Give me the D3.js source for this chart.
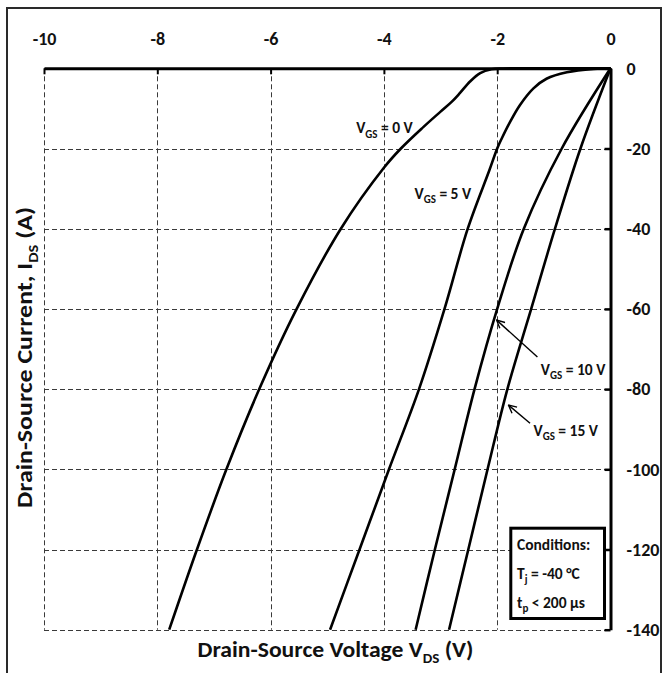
<!DOCTYPE html>
<html>
<head>
<meta charset="utf-8">
<script src="https://cdn.jsdelivr.net/npm/d3@7"></script>
<style>
  html, body { margin: 0; padding: 0; background: #fff; }
  svg { display: block; }
  text { font-family: Carlito, Calibri, Lato, "Open Sans", sans-serif; font-weight: bold; fill: #111; }
</style>
</head>
<body>
<svg id="chart" width="663" height="673"></svg>
<script>
// Axis ticks
const xTicks = [-10, -8, -6, -4, -2, 0];
const yTicks = [0, -20, -40, -60, -80, -100, -120, -140];

// Third-quadrant output curves [V_DS (V), I_DS (A)]
const vgs0 = [[0, 0], [-1, 0], [-1.9, -0.05], [-2.1, -0.25], [-2.3, -1.2], [-2.48, -3.3], [-2.66, -6.2],
  [-2.8, -8.3], [-3.0, -10.8], [-3.3, -14.6], [-3.7, -20], [-4.0, -24.8], [-4.76, -40], [-5.54, -60],
  [-6.2, -80], [-6.78, -100], [-7.3, -120], [-7.79, -140]];
const vgs5 = [[0, 0], [-0.3, -0.15], [-0.77, -1.0], [-1.13, -2.6], [-1.36, -5], [-1.6, -9.2], [-1.77, -13.3],
  [-1.92, -17.5], [-2.0, -20], [-2.14, -25.5], [-2.52, -40], [-2.93, -60], [-3.38, -80], [-3.91, -100],
  [-4.43, -120], [-4.95, -140]];
const vgs10 = [[0, 0], [-0.86, -20], [-1.53, -40], [-2.0, -60], [-2.4, -80], [-2.75, -100], [-3.1, -120],
  [-3.44, -140]];
const vgs15 = [[0, 0], [-0.53, -20], [-0.98, -40], [-1.4, -60], [-1.82, -80], [-2.17, -100], [-2.51, -120],
  [-2.85, -140]];

const curveLabels = [
  { gs: "0", at: [-4.49, -16.2] },
  { gs: "5", at: [-3.46, -32.6] },
  { gs: "10", at: [-1.23, -76.4] },
  { gs: "15", at: [-1.36, -91.7] }
];
const arrows = [
  { from: [-1.29, -72.0], to: [-2.01, -62.8] },
  { from: [-1.42, -88.5], to: [-1.80, -84.0] }
];
const conditions = ["Conditions:", "T|j| = -40 °C", "t|p| < 200 µs"];

const svg = d3.select("#chart");

const x = d3.scaleLinear().domain([-10, 0]).range([44, 610.5]);
const y = d3.scaleLinear().domain([0, -140]).range([68.3, 629.7]);

// Outer frame
svg.append("rect")
  .attr("x", 7).attr("y", 8).attr("width", 654).attr("height", 690)
  .attr("fill", "none").attr("stroke", "#2a2a2a").attr("stroke-width", 2);

// Dashed grid
const grid = svg.append("g").attr("stroke", "#3a3a3a").attr("stroke-width", 1)
  .attr("stroke-dasharray", "5,3").attr("fill", "none");
grid.selectAll("line.v").data(xTicks.filter(d => d !== 0)).join("line")
  .attr("x1", d => Math.round(x(d)) + 0.5).attr("x2", d => Math.round(x(d)) + 0.5)
  .attr("y1", y(0)).attr("y2", y(-140));
grid.selectAll("line.h").data(yTicks.filter(d => d !== 0)).join("line")
  .attr("y1", d => Math.round(y(d)) + 0.5).attr("y2", d => Math.round(y(d)) + 0.5)
  .attr("x1", x(-10)).attr("x2", x(0));

// Curves
const line = d3.line().x(d => x(d[0])).y(d => y(d[1])).curve(d3.curveCatmullRom.alpha(0.5));
svg.append("g").attr("fill", "none").attr("stroke", "#000").attr("stroke-width", 2.6)
  .attr("stroke-linejoin", "round")
  .selectAll("path").data([vgs0, vgs5, vgs10, vgs15]).join("path")
  .attr("d", line);

// Top axis
const fmt = d => String(d);
const topAxis = svg.append("g").attr("transform", `translate(0,${y(0)})`)
  .call(d3.axisTop(x).tickValues(xTicks).tickFormat(fmt).tickSizeInner(-6).tickSizeOuter(0).tickPadding(23));
topAxis.select(".domain").attr("stroke", "#000").attr("stroke-width", 3);
topAxis.selectAll(".tick line").attr("stroke", "#000").attr("stroke-width", 2);
topAxis.selectAll(".tick text").attr("font-size", 18).attr("fill", "#111")
  .attr("font-family", "Carlito, Calibri, Lato, sans-serif").attr("font-weight", "bold");

// Right axis
const rightAxis = svg.append("g").attr("transform", `translate(${x(0)},0)`)
  .call(d3.axisRight(y).tickValues(yTicks).tickFormat(fmt).tickSizeInner(-6).tickSizeOuter(0).tickPadding(16));
rightAxis.select(".domain").attr("stroke", "#000").attr("stroke-width", 3);
rightAxis.selectAll(".tick line").attr("stroke", "#000").attr("stroke-width", 2.5);
rightAxis.selectAll(".tick text").attr("font-size", 18).attr("fill", "#111")
  .attr("font-family", "Carlito, Calibri, Lato, sans-serif").attr("font-weight", "bold");

// Text with a subscript: "Main|sub|rest"
function subText(sel, str, size, subSize) {
  const parts = str.split("|");
  sel.append("tspan").attr("font-size", size).text(parts[0]);
  if (parts.length > 1) {
    sel.append("tspan").attr("font-size", subSize).attr("dy", size * 0.28).text(parts[1]);
    sel.append("tspan").attr("font-size", size).attr("dy", -size * 0.28).text(parts[2]);
  }
}

// Curve labels
curveLabels.forEach(l => {
  const t = svg.append("text").attr("x", x(l.at[0])).attr("y", y(l.at[1]));
  subText(t, `V|GS| = ${l.gs} V`, 15.5, 11);
});

// Arrows
const defs = svg.append("defs");
defs.append("marker").attr("id", "head").attr("viewBox", "0 0 10 10")
  .attr("refX", 9).attr("refY", 5).attr("markerWidth", 7).attr("markerHeight", 7)
  .attr("orient", "auto")
  .append("path").attr("d", "M1,1L9,5L1,9").attr("fill", "none").attr("stroke", "#000").attr("stroke-width", 1.4);
svg.append("g").selectAll("line").data(arrows).join("line")
  .attr("x1", d => x(d.from[0])).attr("y1", d => y(d.from[1]))
  .attr("x2", d => x(d.to[0])).attr("y2", d => y(d.to[1]))
  .attr("stroke", "#000").attr("stroke-width", 1.4).attr("marker-end", "url(#head)");

// Conditions box
svg.append("rect").attr("x", 510.8).attr("y", 528.2).attr("width", 93.7).attr("height", 90.3)
  .attr("fill", "#fff").attr("stroke", "#000").attr("stroke-width", 3);
conditions.forEach((c, i) => {
  const t = svg.append("text").attr("x", 517).attr("y", 549.5 + i * 29);
  subText(t, c, 15.5, 11);
});

// Axis titles
const xt = svg.append("text").attr("x", 335.5).attr("y", 657).attr("text-anchor", "middle")
  .attr("textLength", 276).attr("lengthAdjust", "spacingAndGlyphs");
subText(xt, "Drain-Source Voltage V|DS| (V)", 22, 14);

const yt = svg.append("text").attr("text-anchor", "middle")
  .attr("textLength", 301).attr("lengthAdjust", "spacingAndGlyphs")
  .attr("transform", "translate(32,357.5) rotate(-90)");
subText(yt, "Drain-Source Current, I|DS| (A)", 22, 14);
</script>
</body>
</html>
